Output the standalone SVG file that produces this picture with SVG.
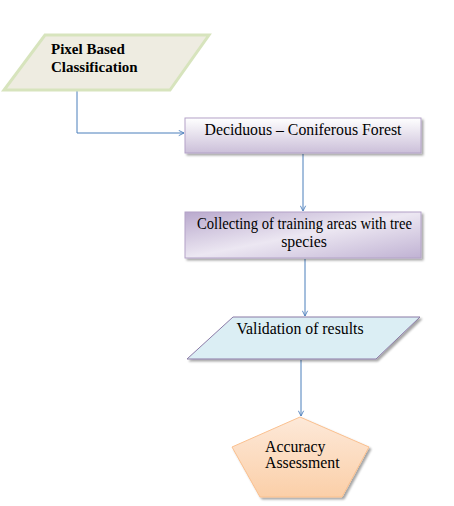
<svg xmlns="http://www.w3.org/2000/svg" width="454" height="506" viewBox="0 0 454 506">
<defs>
<style>
.t{font-family:"Liberation Serif","Times New Roman",serif;font-size:15.8px;fill:#000}
.b{font-weight:bold;font-size:15px}
.c{fill:none;stroke:#4a7ebb;stroke-width:1}
</style>
<marker id="a" viewBox="0 0 8 8" refX="7" refY="4" markerWidth="7" markerHeight="7" orient="auto" markerUnits="userSpaceOnUse">
<path d="M1,1 L7,4 L1,7" fill="none" stroke="#4a7ebb" stroke-width="1"/>
</marker>
<linearGradient id="g1" x1="0" y1="0" x2="0" y2="1">
<stop offset="0" stop-color="#ffffff"/><stop offset="1" stop-color="#cbbfd9"/>
</linearGradient>
<linearGradient id="g2" x1="0" y1="0" x2="1" y2="1">
<stop offset="0" stop-color="#b9a9cd"/><stop offset="0.5" stop-color="#ece7f2"/><stop offset="1" stop-color="#c0b2d3"/>
</linearGradient>
<linearGradient id="g3" x1="0" y1="0" x2="0" y2="1">
<stop offset="0" stop-color="#fde9d9"/><stop offset="1" stop-color="#fbcfa8"/>
</linearGradient>
<filter id="s" x="-10%" y="-10%" width="130%" height="140%">
<feDropShadow dx="2" dy="2" stdDeviation="0.8" flood-color="#000" flood-opacity="0.35"/>
</filter>
</defs>
<g id="connectors">
<path class="c" d="M77,90 V133 H184" marker-end="url(#a)"/>
<path class="c" d="M303,154 V211" marker-end="url(#a)"/>
<path class="c" d="M305,259 V316" marker-end="url(#a)"/>
<path class="c" d="M301,360 V416" marker-end="url(#a)"/>
</g>
<g id="n1">
<polygon points="45,35 209,35 170,90 4,90" fill="#eeece1" stroke="#d7e4bd" stroke-width="3"/>
<text class="t b" x="51" y="54">Pixel Based</text>
<text class="t b" x="51" y="72">Classification</text>
</g>
<g id="n2">
<rect x="185" y="118" width="236" height="35" fill="url(#g1)" stroke="#b3a2c7" stroke-width="1" filter="url(#s)"/>
<text class="t" x="303" y="135" text-anchor="middle">Deciduous – Coniferous Forest</text>
</g>
<g id="n3">
<rect x="185" y="212" width="236" height="46" fill="url(#g2)" stroke="#b3a2c7" stroke-width="1" filter="url(#s)"/>
<text class="t" x="197" y="229" textLength="215" lengthAdjust="spacingAndGlyphs">Collecting of training areas with tree</text>
<text class="t" x="304" y="247" text-anchor="middle">species</text>
</g>
<g id="n4">
<polygon points="233,317 420,317 376,359 187,359" fill="#dbeef4" stroke="#8a7aa6" stroke-width="1" filter="url(#s)"/>
<text class="t" x="300" y="334" text-anchor="middle">Validation of results</text>
</g>
<g id="n5">
<polygon points="300,417 369,447 342,497 260,497 232,447" fill="url(#g3)" stroke="#fac08f" stroke-width="1" filter="url(#s)"/>
<text class="t" x="265" y="452">Accuracy</text>
<text class="t" x="265" y="468">Assessment</text>
</g>
</svg>
